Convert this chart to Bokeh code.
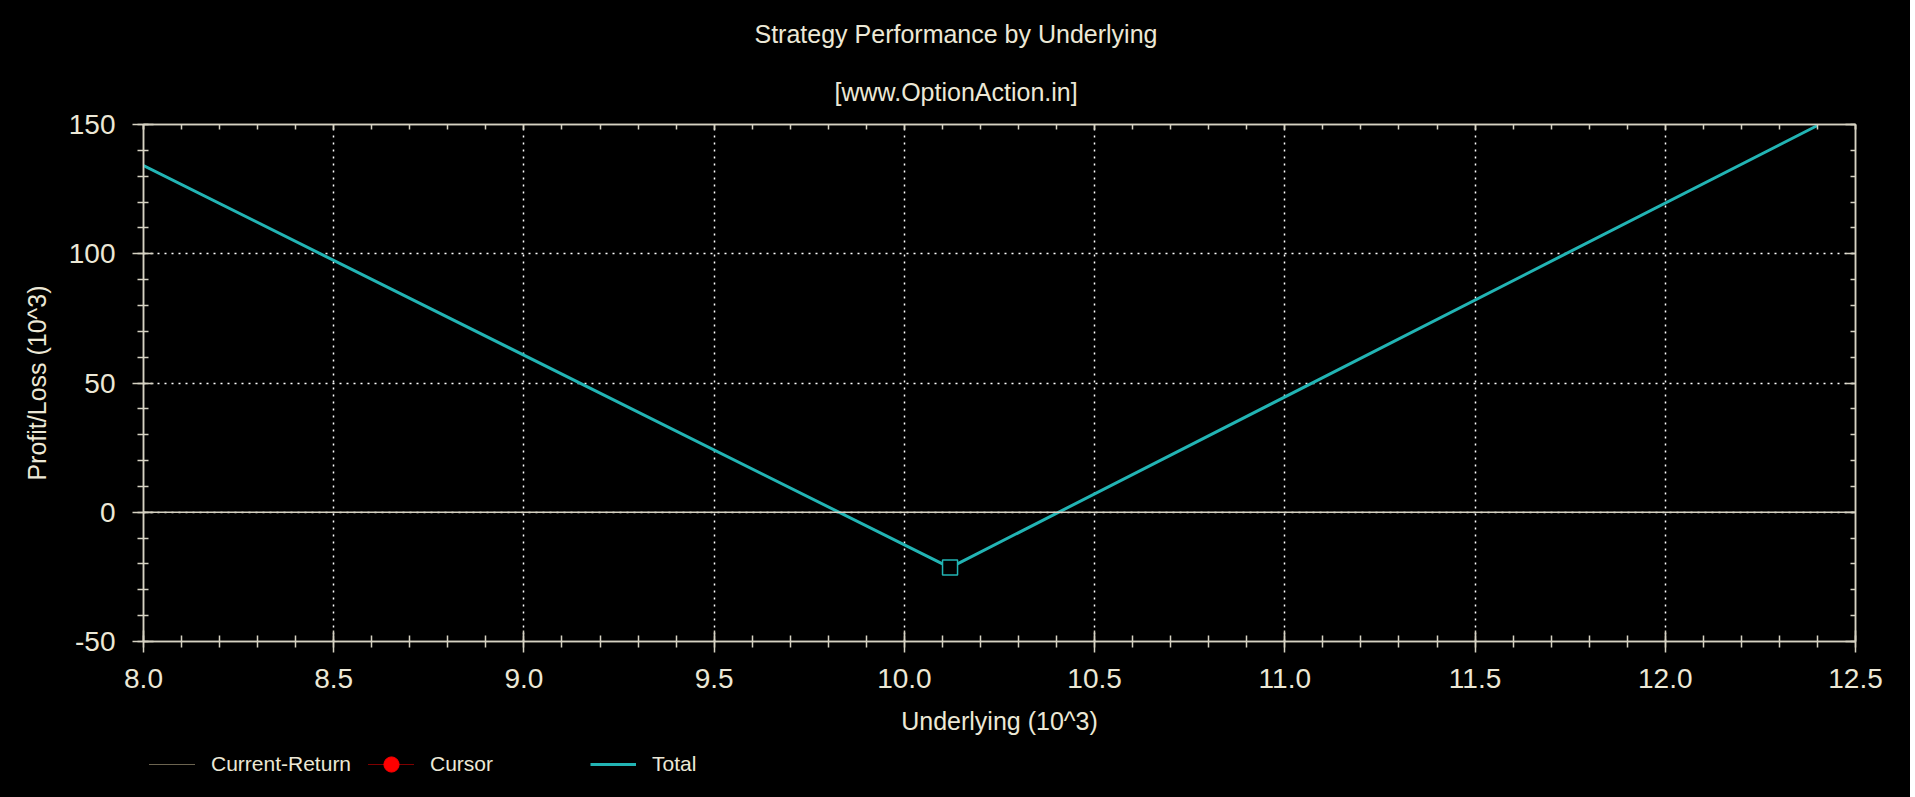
from bokeh.plotting import figure
from bokeh.layouts import column
from bokeh.models import (Range1d, LinearAxis, SingleIntervalTicker, NumeralTickFormatter,
                          Span, Title, Legend, LegendItem, CustomJSTickFormatter)
from bokeh.embed import file_html
from bokeh.resources import INLINE

NAN = float("nan")

# ---- data ----
underlying = [8.0, 10.12, 12.4]
total_pl = [134.1, -21.4, 149.6]
cursor_x = [10.12]
cursor_y = [-21.4]
current_return_x = [NAN]   # series not visible in the chart range
current_return_y = [NAN]
x_ticks_interval = 0.5
y_ticks_interval = 50
title_text = "Strategy Performance by Underlying"
subtitle_text = "[www.OptionAction.in]"
x_label = "Underlying (10^3)"
y_label = "Profit/Loss (10^3)"
legend_labels = ["Current-Return", "Cursor", "Total"]

FONT = "Liberation Sans"
TXT = "#ece8d6"
AX = "#d6d2c2"
TEAL = "#22b4b4"
W = 1910

p = figure(width=W, height=745, x_range=Range1d(8.0, 12.5), y_range=Range1d(-50, 150),
           output_backend="svg", toolbar_location=None, title=None,
           background_fill_color="black", border_fill_color="black",
           min_border_left=143, min_border_right=55, min_border_top=124, min_border_bottom=104)

p.outline_line_color = AX
p.outline_line_width = 1.5

xt = SingleIntervalTicker(interval=x_ticks_interval, num_minor_ticks=5)
yt = SingleIntervalTicker(interval=y_ticks_interval, num_minor_ticks=5)

xa = p.xaxis[0]
xa.ticker = xt
xa.formatter = NumeralTickFormatter(format="0.0")
ya = p.yaxis[0]
ya.ticker = yt
ya.formatter = NumeralTickFormatter(format="0")

for a in (xa, ya):
    a.axis_line_color = AX
    a.axis_line_width = 1.5
    a.major_tick_line_color = AX
    a.minor_tick_line_color = AX
    a.major_tick_line_width = 1.5
    a.minor_tick_line_width = 1.5
    a.major_label_text_color = TXT
    a.major_label_text_font = FONT
    a.major_label_text_font_size = "28px"
    a.axis_label_text_color = TXT
    a.axis_label_text_font = FONT
    a.axis_label_text_font_size = "25px"
    a.axis_label_text_font_style = "normal"

xa.major_tick_in = 11
xa.major_tick_out = 11
xa.minor_tick_in = 6
xa.minor_tick_out = 6
xa.major_label_standoff = 16
xa.axis_label = x_label
xa.axis_label_standoff = 16

ya.major_tick_in = 10
ya.major_tick_out = 11
ya.minor_tick_in = 5
ya.minor_tick_out = 6
ya.major_label_standoff = 17
ya.axis_label = y_label
ya.axis_label_standoff = 15

blank = CustomJSTickFormatter(code="return ''")
top = LinearAxis(ticker=xt, formatter=blank, major_tick_in=5, major_tick_out=0,
                 minor_tick_in=5, minor_tick_out=0, axis_line_color=AX, axis_line_width=1.5,
                 major_tick_line_color=AX, minor_tick_line_color=AX,
                 major_tick_line_width=1.5, minor_tick_line_width=1.5,
                 major_label_text_font_size="1px", major_label_standoff=0)
p.add_layout(top, "above")
right = LinearAxis(ticker=yt, formatter=blank, major_tick_in=10, major_tick_out=0,
                   minor_tick_in=5, minor_tick_out=0, axis_line_color=AX, axis_line_width=1.5,
                   major_tick_line_color=AX, minor_tick_line_color=AX,
                   major_tick_line_width=1.5, minor_tick_line_width=1.5,
                   major_label_text_font_size="1px", major_label_standoff=0)
p.add_layout(right, "right")

for g in (p.xgrid[0], p.ygrid[0]):
    g.grid_line_color = "white"
    g.grid_line_dash = "2 5"
    g.grid_line_width = 1.5

p.add_layout(Span(location=0, dimension="width", line_color=AX, line_width=1.5))

# series
p.line(current_return_x, current_return_y, line_color="#d8c8a0", line_dash="1 1", line_width=1)
p.line(underlying, total_pl, line_color=TEAL, line_width=3)
p.scatter(cursor_x, cursor_y, marker="square", size=15, fill_color="black",
          line_color=TEAL, line_width=1.5)

# titles
p.add_layout(Title(text=subtitle_text, align="left", offset=691, text_color=TXT,
                   text_font=FONT, text_font_size="25px", text_font_style="normal",
                   standoff=37), "above")
p.add_layout(Title(text=title_text, align="left", offset=611, text_color=TXT,
                   text_font=FONT, text_font_size="25px", text_font_style="normal",
                   standoff=20), "above")

# legend strip (separate small figure so the legend is not clipped by the main frame)
q = figure(width=W, height=52, x_range=Range1d(0, 1), y_range=Range1d(0, 1),
           output_backend="svg", toolbar_location=None, title=None,
           x_axis_location=None, y_axis_location=None,
           background_fill_color="black", border_fill_color="black",
           min_border_left=143, min_border_right=55, min_border_top=0, min_border_bottom=0)
q.outline_line_color = "black"
q.outline_line_width = 4
q.grid.visible = False
l_cur = q.line(current_return_x, current_return_y, line_color="#d8c8a0", line_dash="1 1", line_width=1.2)
l_cl = q.line(cursor_x, [NAN], line_color="red", line_dash="1 1", line_width=1.2)
l_cm = q.scatter(cursor_x, [NAN], marker="circle", size=16, color="red")
l_tot = q.line(underlying, [NAN] * len(underlying), line_color=TEAL, line_width=3)

locs = [(6, 14), (225, 14), (447, 14)]
groups = [[l_cur], [l_cl, l_cm], [l_tot]]
for lab, rs, loc in zip(legend_labels, groups, locs):
    lg = Legend(items=[LegendItem(label=lab, renderers=rs)], location=loc,
                orientation="horizontal", padding=0, margin=0, spacing=0,
                border_line_color=None, background_fill_alpha=0,
                glyph_width=46, glyph_height=38, label_height=38, label_standoff=16,
                label_text_color=TXT, label_text_font=FONT, label_text_font_size="21px")
    q.add_layout(lg, "center")

layout = column(p, q, spacing=0, styles={"background-color": "black"})
open("out.html", "w").write(file_html(layout, INLINE))
